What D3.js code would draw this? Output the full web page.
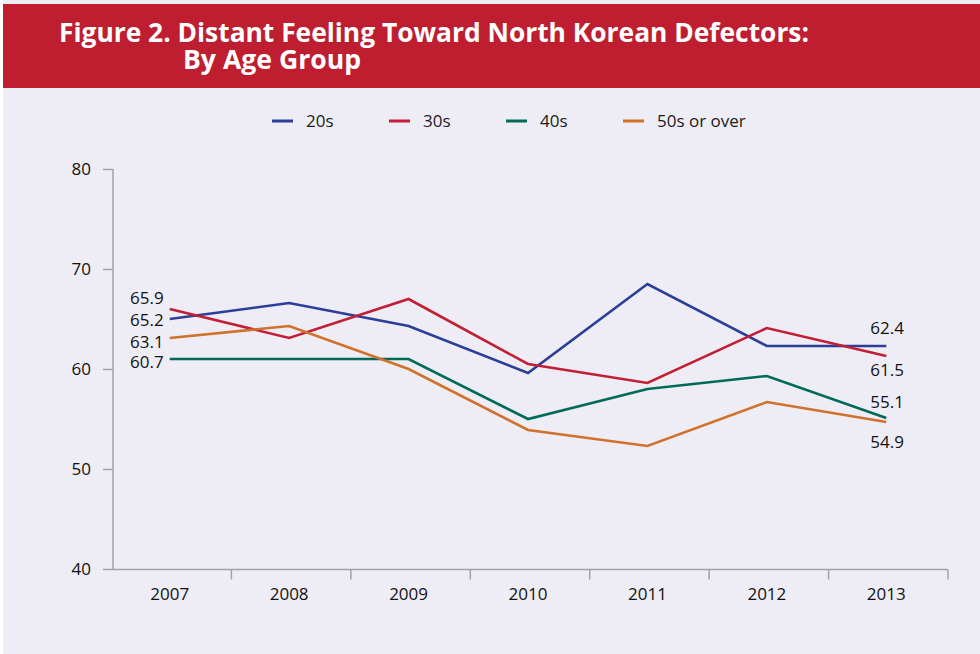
<!DOCTYPE html>
<html>
<head>
<meta charset="utf-8">
<script src="https://cdn.jsdelivr.net/npm/d3@7"></script>
<style>
  body { margin: 0; background: #ffffff; }
  svg { display: block; }
</style>
</head>
<body>
<div id="chart"></div>
<script>
// Data
const years = ["2007", "2008", "2009", "2010", "2011", "2012", "2013"];
const seriesNames = ["20s", "30s", "40s", "50s or over"];
const vals20s = [65.0, 66.6, 64.3, 59.6, 68.5, 62.3, 62.3];
const vals30s = [66.0, 63.1, 67.0, 60.5, 58.6, 64.1, 61.3];
const vals40s = [61.0, 61.0, 61.0, 55.0, 58.0, 59.3, 55.1];
const vals50s = [63.1, 64.3, 60.0, 53.9, 52.3, 56.7, 54.7];
// printed labels at the two ends of each line
const startLabels = ["65.2", "65.9", "60.7", "63.1"];
const endLabels = ["62.4", "61.5", "55.1", "54.9"];
const yTicks = [40, 50, 60, 70, 80];

const colors = ["#2c3e98", "#c21f35", "#006a58", "#d0712c"];
const allVals = [vals20s, vals30s, vals40s, vals50s];

// label nudges (px) so the printed numbers do not collide
const startDy = [1, -11, 3, 4];
const endDy = [-18, 14, -16, 20];

const W = 980, H = 654;

const svg = d3.select("#chart")
  .append("svg")
  .attr("width", W)
  .attr("height", H);

// panel background
svg.append("rect")
  .attr("x", 3).attr("y", 0)
  .attr("width", W - 3).attr("height", H)
  .attr("fill", "#eeedf5");

// title band
svg.append("rect")
  .attr("x", 3).attr("y", 4)
  .attr("width", W - 3).attr("height", 84)
  .attr("fill", "#be1e2f");

svg.append("text")
  .attr("x", 59).attr("y", 42)
  .attr("fill", "#ffffff")
  .attr("font-family", "'Open Sans', sans-serif")
  .attr("font-weight", "bold")
  .attr("font-size", 27)
  .attr("textLength", 750)
  .attr("lengthAdjust", "spacingAndGlyphs")
  .text("Figure 2. Distant Feeling Toward North Korean Defectors:");

svg.append("text")
  .attr("x", 183).attr("y", 69)
  .attr("fill", "#ffffff")
  .attr("font-family", "'Open Sans', sans-serif")
  .attr("font-weight", "bold")
  .attr("font-size", 27)
  .attr("textLength", 178)
  .attr("lengthAdjust", "spacingAndGlyphs")
  .text("By Age Group");

// scales
const x = d3.scaleBand()
  .domain(years)
  .range([112, 948]);

const y = d3.scaleLinear()
  .domain([40, 80])
  .range([569, 169]);

const axisColor = "#a3a2aa";
const font = "'Open Sans', sans-serif";

// y axis
const yAxis = d3.axisLeft(y)
  .tickValues(yTicks)
  .tickSize(10)
  .tickPadding(12);

const gy = svg.append("g")
  .attr("transform", "translate(113,0)")
  .call(yAxis);
gy.select(".domain").attr("stroke", axisColor).attr("stroke-width", 1.5)
  .attr("d", "M0,169V569");
gy.selectAll(".tick line").attr("stroke", axisColor).attr("stroke-width", 1.5);
gy.selectAll(".tick text")
  .attr("fill", "#111")
  .attr("font-family", font)
  .attr("font-size", 17);

// x axis with ticks between categories
const gx = svg.append("g")
  .attr("transform", "translate(0,569.5)");
gx.append("line")
  .attr("x1", 113).attr("x2", x.range()[1])
  .attr("stroke", axisColor).attr("stroke-width", 1.5);
gx.selectAll("line.tk")
  .data(years)
  .enter()
  .append("line")
  .attr("class", "tk")
  .attr("x1", d => x(d) + x.bandwidth())
  .attr("x2", d => x(d) + x.bandwidth())
  .attr("y1", 0).attr("y2", 10)
  .attr("stroke", axisColor).attr("stroke-width", 1.5);
gx.selectAll("text")
  .data(years)
  .enter()
  .append("text")
  .attr("x", d => x(d) + x.bandwidth() / 2 - 2)
  .attr("y", 30)
  .attr("text-anchor", "middle")
  .attr("fill", "#111")
  .attr("font-family", font)
  .attr("font-size", 17)
  .text(d => d);

// lines
const px = d => x(d) + x.bandwidth() / 2 - 2;
const line = d3.line()
  .x((d, i) => px(years[i]))
  .y(d => y(d));

svg.selectAll("path.series")
  .data(allVals)
  .enter()
  .append("path")
  .attr("class", "series")
  .attr("fill", "none")
  .attr("stroke", (d, i) => colors[i])
  .attr("stroke-width", 2.6)
  .attr("stroke-linejoin", "miter")
  .attr("d", line);

// end labels
const last = years.length - 1;
svg.selectAll("text.startLbl")
  .data(allVals)
  .enter()
  .append("text")
  .attr("class", "startLbl")
  .attr("x", px(years[0]) - 6)
  .attr("y", (d, i) => y(d[0]) + startDy[i])
  .attr("dy", "0.35em")
  .attr("text-anchor", "end")
  .attr("fill", "#111")
  .attr("font-family", font)
  .attr("font-size", 17)
  .text((d, i) => startLabels[i]);

svg.selectAll("text.endLbl")
  .data(allVals)
  .enter()
  .append("text")
  .attr("class", "endLbl")
  .attr("x", px(years[last]) - 16)
  .attr("y", (d, i) => y(d[last]) + endDy[i])
  .attr("dy", "0.35em")
  .attr("text-anchor", "start")
  .attr("fill", "#111")
  .attr("font-family", font)
  .attr("font-size", 17)
  .text((d, i) => endLabels[i]);

// legend
const legend = svg.selectAll("g.leg")
  .data(seriesNames)
  .enter()
  .append("g")
  .attr("class", "leg")
  .attr("transform", (d, i) => `translate(${272 + i * 117},121)`);
legend.append("line")
  .attr("x1", 0).attr("x2", 21)
  .attr("stroke", (d, i) => colors[i])
  .attr("stroke-width", 3);
legend.append("text")
  .attr("x", 34)
  .attr("dy", "0.35em")
  .attr("fill", "#1a1a1a")
  .attr("font-family", font)
  .attr("font-size", 17)
  .text(d => d);
</script>
</body>
</html>
